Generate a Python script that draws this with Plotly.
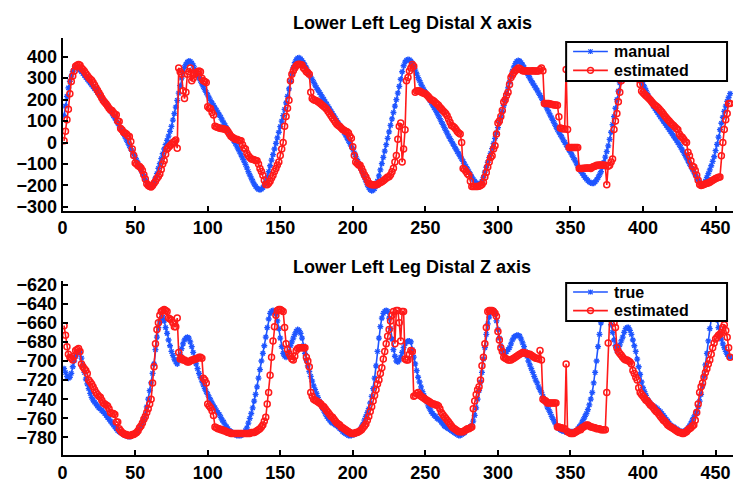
import plotly.graph_objects as go

# ---------------- data ----------------
frames = list(range(1, 461))

x_manual = [
    125, 170, 215, 255, 285, 310, 330, 345, 352, 350,
    345, 338, 330, 322, 313, 304, 295, 286, 278, 269,
    260, 251, 243, 234, 225, 216, 208, 200, 192, 182,
    171, 160, 148, 137, 125, 114, 102, 91, 79, 68,
    55, 41, 27, 13, 0, -14, -28, -41, -55, -69,
    -83, -97, -112, -127, -142, -157, -172, -185, -196, -203,
    -206, -200, -185, -165, -145, -120, -98, -75, -52, -30,
    -10, 10, 30, 52, 75, 105, 135, 165, 197, 230,
    265, 300, 330, 350, 365, 375, 380, 378, 370, 360,
    345, 328, 315, 302, 289, 274, 260, 247, 234, 221,
    208, 195, 184, 173, 162, 151, 140, 129, 117, 105,
    92, 80, 68, 56, 44, 32, 20, 8, -4, -17,
    -30, -43, -57, -71, -86, -102, -118, -135, -151, -166,
    -180, -193, -204, -212, -218, -220, -217, -210, -198, -182,
    -160, -135, -108, -82, -56, -30, -4, 22, 48, 74,
    100, 126, 155, 185, 215, 250, 285, 320, 350, 372,
    386, 394, 395, 390, 382, 372, 360, 348, 333, 318,
    306, 294, 281, 268, 256, 245, 234, 223, 212, 201,
    190, 179, 168, 157, 146, 135, 124, 113, 102, 91,
    80, 69, 58, 47, 35, 22, 9, -4, -18, -32,
    -48, -64, -80, -96, -112, -128, -145, -162, -180, -196,
    -210, -220, -224, -222, -215, -200, -180, -155, -127, -98,
    -69, -40, -10, 20, 50, 80, 110, 140, 170, 200,
    230, 262, 295, 330, 358, 375, 383, 387, 386, 380,
    370, 355, 338, 320, 303, 288, 272, 258, 246, 234,
    222, 210, 198, 187, 175, 163, 152, 139, 125, 112,
    98, 85, 71, 57, 44, 30, 18, 6, -6, -18,
    -30, -42, -53, -65, -76, -88, -100, -112, -124, -136,
    -148, -160, -171, -181, -188, -192, -194, -190, -180, -162,
    -138, -115, -92, -70, -50, -28, -5, 20, 45, 70,
    95, 118, 145, 172, 200, 228, 255, 282, 308, 333,
    352, 368, 378, 382, 380, 372, 362, 350, 338, 325,
    312, 300, 288, 277, 266, 255, 244, 232, 220, 208,
    195, 183, 170, 156, 142, 128, 115, 102, 88, 74,
    61, 49, 37, 25, 13, 1, -10, -22, -34, -45,
    -57, -70, -82, -95, -108, -120, -132, -143, -153, -162,
    -170, -177, -183, -188, -190, -189, -183, -174, -163, -150,
    -136, -115, -92, -68, -42, -15, 15, 48, 84, 121,
    160, 200, 240, 278, 315, 348, 372, 388, 392, 388,
    378, 365, 352, 340, 328, 315, 303, 292, 280, 270,
    258, 243, 228, 213, 198, 184, 171, 160, 150, 140,
    130, 120, 110, 100, 90, 80, 71, 61, 51, 41,
    31, 21, 11, 0, -10, -22, -34, -46, -59, -72,
    -85, -98, -111, -124, -137, -150, -163, -176, -187, -195,
    -197, -192, -180, -162, -145, -127, -108, -88, -66, -38,
    -8, 25, 60, 90, 118, 145, 170, 192, 210, 228,
]

x_estimated = [
    8, 53, 106, 155, 227, 285, 310, 333, 356, 360,
    364, 360, 348, 340, 332, 322, 312, 303, 296, 290,
    280, 268, 256, 244, 232, 220, 208, 196, 188, 180,
    170, 160, 152, 150, 140, 132, 130, 100, 98, 65,
    58, 48, 45, 40, 32, 28, 5, -30, -60, -95,
    -100, -108, -112, -118, -130, -150, -170, -192, -200, -205,
    -207, -200, -190, -180, -168, -158, -146, -125, -100, -85,
    -55, -30, -22, -15, -8, 0, 5, 12, -26, 348,
    330, 318, 242, 205, 235, 318, 330, 348, 288, 300,
    318, 325, 330, 333, 330, 300, 288, 285, 280, 167,
    160, 159, 140, 129, 76, 72, 70, 68, 66, 65,
    63, 62, 60, 50, 40, 30, 25, 20, 15, 15,
    12, 10, 8, -10, -25, -30, -50, -61, -70, -76,
    -78, -80, -83, -85, -100, -121, -135, -152, -175, -195,
    -197, -190, -180, -165, -152, -135, -121, -105, -91, -60,
    -30, 0, 76, 121, 160, 197, 288, 318, 335, 348,
    358, 364, 365, 364, 362, 348, 340, 330, 325, 318,
    235, 205, 200, 197, 195, 190, 185, 180, 174, 168,
    162, 155, 145, 136, 125, 115, 105, 95, 85, 80,
    75, 68, 61, 57, 53, 50, 45, 30, 20, -20,
    -60, -91, -98, -104, -106, -120, -135, -150, -160, -175,
    -190, -193, -196, -197, -197, -197, -195, -190, -186, -182,
    -178, -172, -166, -160, -159, -150, -136, -120, -91, -60,
    15, 76, 91, -91, -30, 60, 288, 303, 333, 348,
    364, 356, 235, 240, 242, 240, 236, 232, 230, 227,
    222, 215, 207, 200, 197, 192, 185, 180, 174, 165,
    158, 150, 142, 136, 125, 110, 95, 80, 76, 70,
    62, 52, 45, 40, 0, -121, -125, -135, -145, -152,
    -180, -205, -205, -205, -205, -205, -203, -200, -195, -185,
    -160, -140, -114, -90, -70, -61, -30, -15, 40, 91,
    100, 121, 150, 189, 200, 220, 235, 270, 303, 315,
    326, 335, 340, 348, 345, 340, 335, 333, 333, 335,
    333, 333, 333, 335, 333, 333, 333, 333, 340, 348,
    335, 182, 182, 182, 182, 180, 178, 176, 175, 175,
    174, 120, 68, 66, 64, 63, 341, 61, -23, -23,
    -23, -23, -23, -23, -23, -121, -121, -121, -120, -120,
    -119, -118, -118, -121, -115, -112, -110, -106, -106, -105,
    -105, -104, -106, -106, -197, -110, -106, -90, -76, 61,
    100, 136, 190, 235, 288, 330, 360, 378, 385, 388,
    385, 378, 365, 350, 335, 315, 295, 270, 240, 232,
    225, 218, 212, 205, 198, 190, 182, 175, 170, 165,
    158, 150, 142, 133, 124, 116, 108, 100, 92, 85,
    80, 72, 65, 60, 40, 30, 25, 15, 5, 0,
    -45, -61, -85, -110, -114, -130, -152, -175, -195, -200,
    -198, -195, -192, -190, -188, -185, -180, -176, -172, -168,
    -165, -162, -160, -61, 0, 61, 106, 135, 182, 182,
]

z_true = [
    -708, -712, -716, -718, -717, -713, -706, -700, -695, -692,
    -690, -691, -697, -704, -712, -719, -724, -729, -734, -738,
    -741, -743, -745, -747, -749, -750, -752, -753, -755, -757,
    -759, -761, -763, -765, -767, -769, -771, -773, -774, -775,
    -776, -777, -778, -778, -779, -779, -779, -778, -777, -776,
    -775, -773, -771, -768, -765, -761, -756, -748, -740, -731,
    -723, -713, -703, -688, -675, -665, -659, -655, -654, -658,
    -665, -671, -678, -684, -690, -694, -698, -701, -703, -699,
    -693, -687, -682, -678, -676, -675, -676, -680, -685, -691,
    -697, -703, -708, -713, -717, -721, -725, -729, -732, -735,
    -738, -741, -744, -747, -749, -752, -754, -756, -759, -762,
    -764, -767, -769, -771, -773, -774, -775, -776, -777, -778,
    -778, -778, -778, -777, -775, -773, -770, -765, -760, -755,
    -749, -742, -735, -727, -718, -709, -700, -692, -684, -675,
    -665, -656, -650, -648, -647, -648, -651, -658, -666, -676,
    -685, -692, -695, -696, -695, -690, -684, -680, -676, -672,
    -669, -667, -668, -671, -676, -684, -692, -699, -705, -711,
    -716, -721, -726, -730, -734, -738, -742, -746, -749, -752,
    -755, -758, -760, -762, -764, -765, -766, -767, -768, -769,
    -771, -772, -774, -775, -776, -777, -778, -778, -778, -777,
    -777, -776, -775, -774, -772, -769, -766, -762, -758, -754,
    -750, -744, -737, -729, -718, -705, -690, -676, -664, -655,
    -650, -648, -647, -648, -655, -666, -677, -688, -695, -700,
    -701, -699, -696, -691, -686, -682, -680, -679, -679, -680,
    -688, -696, -703, -710, -717, -722, -727, -732, -736, -740,
    -743, -747, -750, -753, -755, -757, -758, -760, -761, -762,
    -764, -766, -768, -769, -770, -771, -772, -773, -774, -775,
    -776, -777, -778, -778, -777, -776, -775, -773, -772, -770,
    -769, -767, -763, -757, -749, -740, -731, -722, -712, -698,
    -686, -672, -661, -654, -649, -647, -647, -650, -658, -667,
    -676, -684, -689, -692, -692, -690, -688, -686, -682, -678,
    -675, -674, -673, -673, -674, -677, -681, -685, -690, -695,
    -700, -704, -708, -712, -716, -720, -723, -727, -730, -733,
    -737, -741, -744, -748, -751, -754, -758, -761, -764, -767,
    -769, -771, -772, -773, -773, -774, -774, -774, -774, -774,
    -774, -774, -774, -773, -771, -769, -767, -764, -761, -758,
    -755, -751, -746, -740, -733, -723, -712, -700, -685, -672,
    -660, -652, -647, -645, -645, -648, -655, -662, -670, -678,
    -684, -689, -687, -683, -679, -675, -670, -666, -665, -665,
    -668, -672, -678, -684, -690, -698, -706, -714, -722, -728,
    -732, -736, -740, -742, -744, -746, -747, -748, -749, -750,
    -752, -753, -755, -757, -759, -761, -763, -765, -767, -768,
    -769, -770, -771, -772, -773, -774, -774, -774, -773, -772,
    -770, -768, -765, -762, -759, -756, -753, -748, -742, -735,
    -726, -716, -704, -692, -679, -666, -656, -649, -647, -650,
    -657, -665, -672, -677, -682, -686, -690, -693, -695, -696,
]

z_estimated = [
    -663, -673, -685, -693, -696, -697, -699, -695, -689, -688,
    -687, -690, -703, -706, -708, -710, -713, -720, -722, -724,
    -727, -730, -733, -735, -737, -738, -741, -744, -745, -746,
    -747, -750, -754, -755, -755, -756, -764, -764, -771, -773,
    -775, -776, -777, -777, -778, -778, -778, -777, -777, -776,
    -775, -773, -770, -768, -765, -761, -758, -754, -750, -745,
    -740, -723, -706, -682, -667, -660, -652, -648, -647, -646,
    -647, -648, -655, -656, -657, -660, -664, -664, -655, -691,
    -698, -697, -699, -699, -700, -701, -701, -700, -699, -699,
    -698, -698, -697, -696, -696, -697, -718, -720, -723, -745,
    -747, -749, -752, -757, -769, -770, -771, -771, -772, -772,
    -773, -773, -774, -775, -775, -776, -776, -776, -776, -776,
    -776, -776, -776, -776, -776, -776, -776, -776, -776, -775,
    -775, -775, -774, -773, -772, -771, -769, -767, -763, -759,
    -745, -733, -715, -696, -679, -664, -652, -647, -646, -646,
    -647, -648, -665, -682, -688, -692, -695, -698, -699, -695,
    -689, -687, -686, -686, -686, -686, -686, -696, -700, -706,
    -733, -737, -740, -741, -742, -743, -744, -745, -747, -748,
    -750, -752, -754, -756, -758, -759, -761, -763, -765, -766,
    -767, -769, -770, -771, -772, -773, -774, -775, -776, -776,
    -776, -775, -775, -774, -773, -772, -770, -768, -766, -762,
    -758, -753, -748, -742, -736, -730, -724, -720, -713, -707,
    -698, -690, -682, -674, -667, -658, -652, -648, -682, -647,
    -647, -660, -679, -648, -648, -698, -699, -699, -693, -689,
    -690, -737, -736, -734, -733, -735, -737, -738, -739, -740,
    -741, -742, -743, -744, -745, -745, -746, -746, -747, -750,
    -754, -756, -758, -760, -762, -764, -766, -768, -770, -771,
    -772, -773, -774, -774, -774, -774, -773, -772, -771, -771,
    -770, -769, -750, -742, -735, -730, -727, -720, -705, -696,
    -682, -665, -648, -647, -647, -647, -648, -650, -653, -669,
    -678, -686, -690, -696, -697, -698, -699, -699, -699, -698,
    -697, -696, -695, -694, -693, -692, -691, -691, -692, -692,
    -693, -693, -694, -695, -696, -697, -697, -698, -689, -699,
    -740, -741, -742, -744, -744, -744, -744, -744, -744, -744,
    -769, -769, -770, -770, -771, -771, -703, -774, -775, -776,
    -776, -776, -775, -774, -773, -772, -772, -770, -769, -768,
    -767, -767, -768, -769, -769, -770, -770, -771, -771, -771,
    -772, -772, -772, -772, -733, -681, -655, -650, -655, -660,
    -665, -686, -690, -692, -694, -696, -698, -699, -699, -700,
    -701, -703, -710, -713, -717, -720, -728, -733, -735, -737,
    -739, -741, -742, -744, -746, -747, -749, -751, -753, -754,
    -756, -758, -760, -762, -763, -765, -767, -768, -769, -770,
    -771, -772, -773, -774, -775, -775, -776, -776, -775, -774,
    -772, -771, -770, -768, -767, -762, -754, -745, -733, -727,
    -723, -717, -712, -708, -703, -699, -693, -686, -681, -677,
    -675, -673, -672, -670, -665, -662, -668, -675, -686, -696,
]

x_ticks = [0, 50, 100, 150, 200, 250, 300, 350, 400, 450]
y1_ticks = [-300, -200, -100, 0, 100, 200, 300, 400]
y2_ticks = [-780, -760, -740, -720, -700, -680, -660, -640, -620]

title_top = "Lower Left Leg Distal X axis"
title_bottom = "Lower Left Leg Distal Z axis"
legend_top = ["manual", "estimated"]
legend_bottom = ["true", "estimated"]

# ---------------- style ----------------
W, H = 733, 486
BLUE = "#1f55ff"
RED = "#ff1a1a"
FONT = "Liberation Sans"


def px_x(p):
    return p / W


def px_y(p):
    return 1 - p / H


fig = go.Figure()


def blue_trace(y, name, xa, ya):
    return go.Scatter(
        x=frames, y=y, name=name, mode="lines+markers", xaxis=xa, yaxis=ya, showlegend=False,
        line=dict(color=BLUE, width=1.6),
        marker=dict(symbol="asterisk-open", size=5, color=BLUE, line=dict(color=BLUE, width=1.3)),
    )


def red_trace(y, name, xa, ya):
    return go.Scatter(
        x=frames, y=y, name=name, mode="lines+markers", xaxis=xa, yaxis=ya, showlegend=False,
        line=dict(color=RED, width=1.6),
        marker=dict(symbol="circle-open", size=6, color=RED, line=dict(color=RED, width=1.5)),
    )


fig.add_trace(blue_trace(x_manual, legend_top[0], "x", "y"))
fig.add_trace(red_trace(x_estimated, legend_top[1], "x", "y"))
fig.add_trace(blue_trace(z_true, legend_bottom[0], "x2", "y2"))
fig.add_trace(red_trace(z_estimated, legend_bottom[1], "x2", "y2"))

tickfont = dict(family=FONT, size=18, color="black", weight="bold")
axis_common = dict(
    showline=True, linecolor="black", linewidth=2, ticks="inside", ticklen=5,
    tickwidth=1.5, tickcolor="black", showgrid=False, zeroline=False,
    tickfont=tickfont, mirror=False,
)

# ---------------- MATLAB-style legend boxes (drawn as decorations) ----------------
shapes = []
annotations = []


def add_legend(box_top, box_bottom, row_ys, labels):
    shapes.append(dict(type="rect", xref="paper", yref="paper", layer="above",
                       x0=px_x(565), x1=px_x(727), y0=px_y(box_bottom), y1=px_y(box_top),
                       fillcolor="white", line=dict(color="black", width=2)))
    colors = [BLUE, RED]
    for i, (ry, lab) in enumerate(zip(row_ys, labels)):
        c = colors[i]
        shapes.append(dict(type="line", xref="paper", yref="paper", layer="above",
                           x0=px_x(572), x1=px_x(607), y0=px_y(ry), y1=px_y(ry),
                           line=dict(color=c, width=1.6)))
        cx = 589.5
        if i == 0:
            for dx, dy in [(0, 2.5), (2.2, 2.2), (-2.2, 2.2)]:
                shapes.append(dict(type="line", xref="paper", yref="paper", layer="above",
                                   x0=px_x(cx - dx), x1=px_x(cx + dx),
                                   y0=px_y(ry - dy), y1=px_y(ry + dy),
                                   line=dict(color=c, width=1.2)))
        else:
            shapes.append(dict(type="circle", xref="paper", yref="paper", layer="above",
                               x0=px_x(cx - 3), x1=px_x(cx + 3),
                               y0=px_y(ry + 3), y1=px_y(ry - 3),
                               line=dict(color=c, width=1.5)))
        annotations.append(dict(text=lab, x=px_x(611), y=px_y(ry), xref="paper", yref="paper",
                                xanchor="left", yanchor="middle", showarrow=False,
                                font=dict(family=FONT, size=16, color="black", weight="bold")))


add_legend(37, 77, [46.7, 66.0], legend_top)
add_legend(284, 323, [293.3, 312.3], legend_bottom)

annotations.append(dict(text=title_top, x=px_x(410), y=px_y(17.5), xref="paper", yref="paper",
                        xanchor="center", yanchor="middle", showarrow=False,
                        font=dict(family=FONT, size=18, color="black", weight="bold")))
annotations.append(dict(text=title_bottom, x=px_x(410), y=px_y(267.5), xref="paper", yref="paper",
                        xanchor="center", yanchor="middle", showarrow=False,
                        font=dict(family=FONT, size=18, color="black", weight="bold")))

left = px_x(58)
fig.update_layout(
    width=W, height=H,
    margin=dict(l=0, r=0, t=0, b=0),
    paper_bgcolor="white", plot_bgcolor="white",
    showlegend=False,
    xaxis=dict(domain=[left, 1], range=[0, 462], tickvals=x_ticks, anchor="y", **axis_common),
    yaxis=dict(domain=[px_y(210), px_y(33.3)], range=[-318, 485], tickvals=y1_ticks,
               anchor="x", **axis_common),
    xaxis2=dict(domain=[left, 1], range=[0, 462], tickvals=x_ticks, anchor="y2", **axis_common),
    yaxis2=dict(domain=[px_y(460.7), px_y(281.7)], range=[-798.8, -615.9], tickvals=y2_ticks,
                anchor="x2", **axis_common),
    shapes=shapes,
    annotations=annotations,
)

fig.write_html("out.html")
